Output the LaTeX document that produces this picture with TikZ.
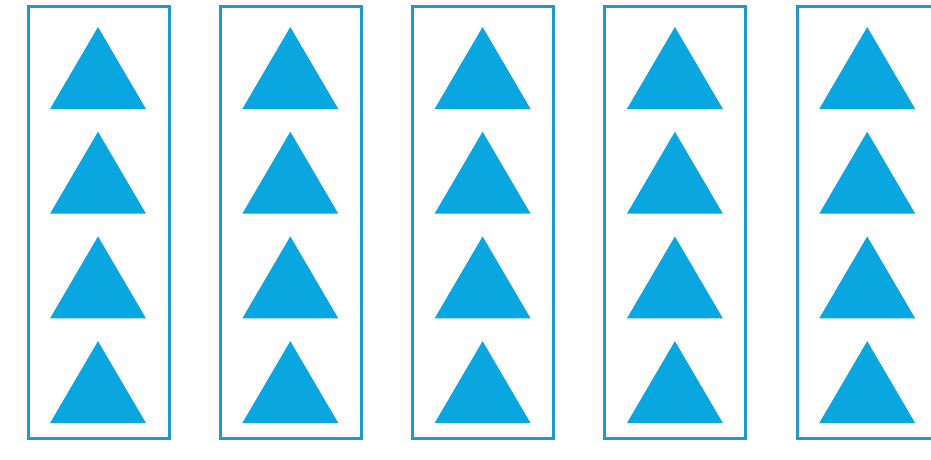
\documentclass[tikz,border=0pt]{standalone}
\definecolor{boxblue}{HTML}{2398C6}
\definecolor{trifill}{HTML}{0AA6E0}
\tikzset{
  grp/.style={draw=boxblue, line width=3pt},
  tri/.style={fill=trifill, draw=none}
}
\begin{document}
\begin{tikzpicture}[x=1pt,y=-1pt]
\useasboundingbox (0,0) rectangle (931,459);
\fill[white] (0,0) rectangle (931,459);
\clip (0,0) rectangle (931,459);
\foreach \i in {0,...,4}{
  \pgfmathsetmacro{\xl}{28+192.3*\i}
  \pgfmathsetmacro{\xc}{\xl+70}
  \draw[grp] (\xl,6) rectangle ({\xl+141},438);
  \foreach \j in {0,...,3}{
    \pgfmathsetmacro{\ya}{27+104.7*\j}
    \fill[tri] (\xc,\ya) -- ({\xc+48},{\ya+82}) -- ({\xc-48},{\ya+82}) -- cycle;
  }
}
\end{tikzpicture}
\end{document}
